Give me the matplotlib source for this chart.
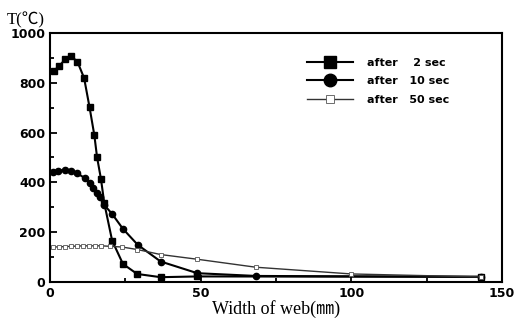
import matplotlib.pyplot as plt
from matplotlib.ticker import MultipleLocator

# width of web (mm) and temperature (C)
x_2s = [1.3, 3.1, 5.0, 6.9, 9.1, 11.3, 13.1, 14.7, 15.6, 16.9, 18.0, 20.6, 24.2, 28.9, 36.7, 48.9, 143.0]
t_2s = [848, 868, 894, 908, 884, 819, 702, 589, 501, 413, 316, 166, 72, 32, 19, 22, 21]

x_10s = [1.1, 2.6, 5.0, 7.0, 8.9, 11.7, 13.3, 14.4, 15.6, 16.7, 18.0, 20.6, 24.2, 29.1, 36.7, 48.9, 68.3, 143.0]
t_10s = [443, 447, 450, 446, 437, 416, 396, 376, 356, 343, 309, 273, 213, 149, 82, 35, 24, 20]

x_50s = [1.0, 3.0, 5.0, 7.0, 9.0, 11.0, 13.0, 15.0, 17.0, 20.0, 24.0, 29.0, 36.7, 48.9, 68.3, 100.0, 143.0]
t_50s = [140, 141, 142, 143, 144, 145, 145, 145, 145, 143, 140, 130, 110, 91, 59, 32, 20]

labels = ['after    2 sec', 'after   10 sec', 'after   50 sec']

fig = plt.figure(figsize=(5.16, 3.2), dpi=100)
ax = fig.add_axes([0.097, 0.119, 0.876, 0.778])

ax.plot(x_2s, t_2s, color='black', lw=1.5, marker='s', ms=4.5, label=labels[0])
ax.plot(x_10s, t_10s, color='black', lw=1.5, marker='o', ms=4.5, label=labels[1])
ax.plot(x_50s, t_50s, color='#333333', lw=1.0, marker='s', ms=3, mfc='white',
        mec='#555555', mew=0.6, label=labels[2])

ax.set_xlim(0, 150)
ax.set_ylim(0, 1000)
ax.xaxis.set_major_locator(MultipleLocator(50))
ax.xaxis.set_minor_locator(MultipleLocator(25))
ax.yaxis.set_major_locator(MultipleLocator(200))
ax.yaxis.set_minor_locator(MultipleLocator(100))
ax.tick_params(which='both', direction='in', width=1.3)
ax.tick_params(which='major', length=5, labelsize=9)
ax.tick_params(which='minor', length=3)
for lab in ax.get_xticklabels() + ax.get_yticklabels():
    lab.set_fontweight('bold')
    lab.set_family('DejaVu Sans')
for sp in ax.spines.values():
    sp.set_linewidth(1.5)

ax.set_xlabel('Width of web(\u339c)', family=['Liberation Serif', 'Noto Sans CJK JP'],
              fontsize=13, labelpad=0)
fig.text(0.013, 0.925, 'T(\u2103)', family=['Liberation Serif', 'Noto Sans CJK JP'], fontsize=12)

leg = ax.legend(loc='upper right', bbox_to_anchor=(0.905, 0.94), frameon=False,
                handlelength=4.2, handletextpad=1.2, markerscale=2.0,
                prop={'family': 'DejaVu Sans', 'weight': 'bold', 'size': 8},
                labelspacing=0.75)

fig.savefig('out.png', dpi=100)
